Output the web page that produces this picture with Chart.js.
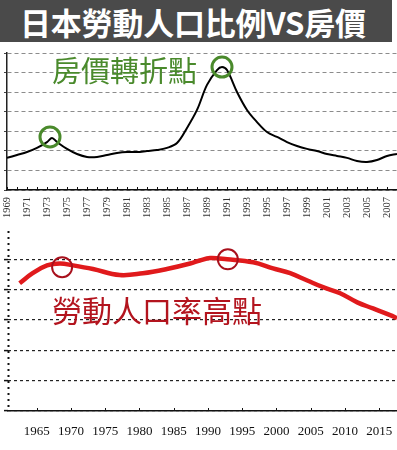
<!DOCTYPE html>
<html>
<head>
<meta charset="utf-8">
<script src="https://cdn.jsdelivr.net/npm/chart.js@4"></script>
<style>
  html, body { margin:0; padding:0; background:#fff; width:397px; height:450px; overflow:hidden; }
  #title { position:absolute; left:0; top:0; width:392px; height:42px; background:#4a4a4a;
    color:#fff; font-family:"Noto Sans CJK TC", "Noto Sans", sans-serif; font-weight:700;
    font-size:31px; line-height:44px; padding-left:20px; box-sizing:border-box; white-space:nowrap; letter-spacing:-0.2px; }
  canvas { position:absolute; left:0; }
  #c1 { top:45px; }
  #c2 { top:228px; }
  .note { position:absolute; font-family:"Noto Sans CJK TC", sans-serif; line-height:1; white-space:nowrap; z-index:5; }
  #greenNote { left:52px; top:55px; font-size:29px; color:#4a8a2c; }
  #redNote { left:52px; top:294px; font-size:30px; color:#b3141e; }
</style>
</head>
<body>
<div id="title">日本勞動人口比例VS房價</div>
<canvas id="c1" width="397" height="185"></canvas>
<canvas id="c2" width="397" height="222"></canvas>
<div class="note" id="greenNote">房價轉折點</div>
<div class="note" id="redNote">勞動人口率高點</div>
<script>
// ---- Top chart: house price index (relative units) ----
const priceYears = [1969,1970,1971,1972,1973,1973.5,1974,1975,1976,1977,1978,1979,1980,1981,1982,1983,1984,1985,1986,1987,1988,1989,1990,1990.5,1991,1992,1993,1994,1995,1996,1997,1998,1999,2000,2001,2002,2003,2004,2005,2006,2007,2008];
const priceValues = [1.64,1.79,1.94,2.15,2.45,2.66,2.45,2.10,1.84,1.69,1.69,1.79,1.89,1.94,1.94,1.99,2.04,2.15,2.40,3.17,4.09,5.37,6.13,6.29,6.13,5.01,4.09,3.47,2.96,2.71,2.45,2.25,2.10,1.99,1.84,1.74,1.64,1.48,1.43,1.53,1.74,1.84];
const priceTurnYears = [1973.3, 1990.5];
const priceTurnValues = [2.71, 6.28];
const priceTickYears = [1969,1970,1971,1972,1973,1974,1975,1976,1977,1978,1979,1980,1981,1982,1983,1984,1985,1986,1987,1988,1989,1990,1991,1992,1993,1994,1995,1996,1997,1998,1999,2000,2001,2002,2003,2004,2005,2006,2007,2008];
const priceGridValues = [0,1,2,3,4,5,6,7];

// ---- Bottom chart: working-age population ratio (%) ----
const laborYears = [1962.5,1964.4,1966.5,1968.4,1970.3,1973.2,1977.1,1980.5,1984,1987.4,1988.8,1990.3,1992.8,1996.6,1999.5,2002,2004.5,2006.8,2009.3,2011.8,2014.1,2016.6,2017.6];
const laborValues = [66.05,67.7,69.0,69.3,69.0,68.4,67.4,67.7,68.4,69.3,69.8,70.2,70.0,69.5,68.5,67.7,66.5,65.4,64.4,62.9,61.9,60.8,60.3];
const laborPeakYears = [1968.7, 1992.9];
const laborPeakValues = [68.7, 70.0];
const laborTickYears = [1965,1970,1975,1980,1985,1990,1995,2000,2005,2010,2015];
const laborGridValues = [45,50,55,60,65,70];

const toXY = (xs, ys) => xs.map((x, i) => ({ x: x, y: ys[i] }));

// draws small upward tick marks on the x axis, from the scale's own ticks
const innerTicks = {
  id: 'innerTicks',
  afterDatasetsDraw(chart, args, opts) {
    const sx = chart.scales.x, ctx = chart.ctx, bottom = chart.chartArea.bottom;
    ctx.save();
    ctx.strokeStyle = '#111';
    ctx.lineWidth = 1;
    sx.ticks.forEach(t => {
      const px = Math.round(sx.getPixelForValue(t.value)) + 0.5;
      ctx.beginPath();
      ctx.moveTo(px, bottom);
      ctx.lineTo(px, bottom - (opts.len || 3));
      ctx.stroke();
    });
    ctx.restore();
  }
};

// dotted vertical axis line (bottom chart)
const dottedYAxis = {
  id: 'dottedYAxis',
  beforeDatasetsDraw(chart) {
    const a = chart.chartArea, ctx = chart.ctx;
    ctx.save();
    ctx.strokeStyle = '#111';
    ctx.lineWidth = 2;
    ctx.setLineDash([2, 4]);
    ctx.beginPath();
    ctx.moveTo(a.left + 0.5, a.top - 4);
    ctx.lineTo(a.left + 0.5, a.bottom);
    ctx.stroke();
    ctx.restore();
  }
};

const fixX = h => s => { s.height = h; s.paddingLeft = 0; s.paddingRight = 0; };

new Chart(document.getElementById('c1'), {
  type: 'line',
  data: {
    datasets: [
      { data: toXY(priceYears, priceValues), borderColor: '#000', borderWidth: 2, pointRadius: 0, tension: 0.35, fill: false, order: 2 },
      { data: toXY(priceTurnYears, priceTurnValues), showLine: false, pointRadius: 10, pointHoverRadius: 10,
        pointBackgroundColor: 'rgba(0,0,0,0)', pointBorderColor: '#4a8a2c', pointBorderWidth: 3, order: 1 }
    ]
  },
  options: {
    responsive: false, animation: false, devicePixelRatio: 1,
    layout: { autoPadding: false, padding: { top: 8, left: 7, right: 0, bottom: 0 } },
    plugins: { legend: { display: false }, tooltip: { enabled: false }, innerTicks: { len: 3 } },
    scales: {
      x: {
        type: 'linear', min: 1969, max: 2008,
        afterBuildTicks: s => { s.ticks = priceTickYears.map(v => ({ value: v })); },
        afterFit: fixX(40),
        grid: { display: false, drawTicks: false },
        border: { display: true, color: '#111', width: 1.5 },
        ticks: { autoSkip: false, minRotation: 90, maxRotation: 90, padding: 7, color: '#333',
          font: { family: 'Liberation Serif', size: 10.5 },
          callback: v => ((v - 1969) % 2 === 0 ? String(v) : '') }
      },
      y: {
        min: 0, max: 7,
        afterBuildTicks: s => { s.ticks = priceGridValues.map(v => ({ value: v })); },
        afterFit: s => { s.width = 0; },
        grid: { color: '#8c8c8c', lineWidth: 1, drawTicks: true, tickLength: 3, tickColor: '#444' },
        border: { display: true, color: '#222', width: 1.5, dash: [4, 3] },
        ticks: { display: false }
      }
    }
  },
  plugins: [innerTicks]
});

new Chart(document.getElementById('c2'), {
  type: 'line',
  data: {
    datasets: [
      { data: toXY(laborYears, laborValues), borderColor: '#e01a1c', borderWidth: 4.5, pointRadius: 0, tension: 0.4, fill: false, order: 2 },
      { data: toXY(laborPeakYears, laborPeakValues), showLine: false, pointRadius: 10, pointHoverRadius: 10,
        pointBackgroundColor: 'rgba(0,0,0,0)', pointBorderColor: '#a8101c', pointBorderWidth: 2, order: 1 }
    ]
  },
  options: {
    responsive: false, animation: false, devicePixelRatio: 1,
    layout: { autoPadding: false, padding: { top: 7, left: 8, right: 0, bottom: 0 } },
    plugins: { legend: { display: false }, tooltip: { enabled: false }, innerTicks: { len: 3 } },
    scales: {
      x: {
        type: 'linear', min: 1960.8, max: 2017.6,
        afterBuildTicks: s => { s.ticks = laborTickYears.map(v => ({ value: v })); },
        afterFit: fixX(39),
        grid: { display: false, drawTicks: false },
        border: { display: true, color: '#111', width: 1.5 },
        ticks: { autoSkip: false, maxRotation: 0, minRotation: 0, padding: 13, color: '#111',
          font: { family: 'Liberation Serif', size: 13 },
          callback: v => String(v) }
      },
      y: {
        min: 45, max: 74,
        afterBuildTicks: s => { s.ticks = laborGridValues.map(v => ({ value: v })); },
        afterFit: s => { s.width = 0; },
        grid: { color: '#222', lineWidth: 1.2, drawTicks: true, tickLength: 4, tickColor: '#111', tickWidth: 1.5 },
        border: { display: false, dash: [3, 3] },
        ticks: { display: false }
      }
    }
  },
  plugins: [innerTicks, dottedYAxis]
});
</script>
</body>
</html>
